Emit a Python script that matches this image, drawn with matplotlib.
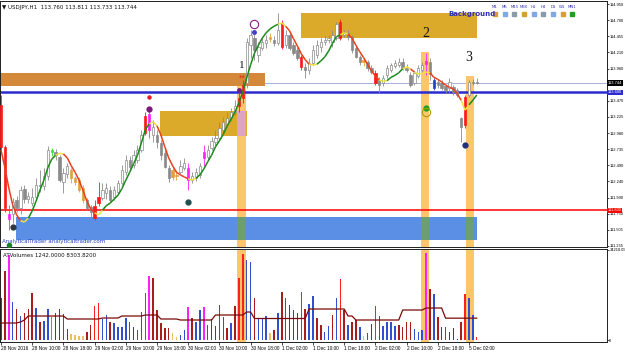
import matplotlib
matplotlib.use("Agg")
import numpy as np
import matplotlib.pyplot as plt
from matplotlib.collections import LineCollection
from matplotlib.patches import Rectangle

# ---- price data (USDJPY H1), bar 0 = 28 Nov 02:00 ----
opens = [
    113.41, 112.77, 111.67, 111.74, 111.96, 111.83, 112.13, 111.97, 111.91, 112.00,
    112.19, 112.17, 112.32, 112.69, 112.69, 112.61, 112.23, 112.35, 112.41, 112.29,
    112.26, 112.14, 111.96, 111.85, 111.87, 111.91, 111.99, 112.06, 112.11, 112.00,
    112.08, 112.22, 112.38, 112.57, 112.49, 112.57, 112.72, 112.98, 113.27, 112.95,
    112.95, 112.83, 112.67, 112.45, 112.41, 112.32, 112.38, 112.45, 112.45, 112.26,
    112.29, 112.34, 112.60, 112.61, 112.75, 112.84, 112.90, 113.03, 113.12, 113.21,
    113.30, 113.39, 113.51, 113.74, 114.32, 114.43, 114.17, 114.28, 114.35, 114.45,
    114.40, 114.35, 114.66, 114.32, 114.48, 114.32, 114.25, 114.14, 113.99, 113.94,
    114.05, 114.17, 114.29, 114.37, 114.40, 114.37, 114.43, 114.67, 114.48, 114.51,
    114.45, 114.28, 114.14, 114.06, 114.06, 113.97, 113.90, 113.79, 113.74, 113.87,
    113.94, 114.00, 114.02, 114.06, 113.97, 113.87, 113.74, 113.85, 113.94, 114.03,
    114.06, 113.79, 113.76, 113.74, 113.70, 113.67, 113.68, 113.64, 113.21, 113.10,
    113.56, 113.76, 113.76]
highs = [
    113.56, 112.80, 111.88, 111.99, 112.02, 112.17, 112.19, 112.08, 112.14, 112.29,
    112.41, 112.45, 112.78, 112.75, 112.74, 112.64, 112.45, 112.52, 112.45, 112.32,
    112.31, 112.19, 111.99, 111.88, 111.96, 112.23, 112.22, 112.22, 112.17, 112.17,
    112.26, 112.49, 112.64, 112.63, 112.72, 112.80, 113.03, 113.30, 113.33, 113.18,
    113.03, 112.87, 112.72, 112.49, 112.45, 112.41, 112.57, 112.60, 112.52, 112.38,
    112.45, 112.52, 112.80, 112.80, 112.92, 113.03, 113.15, 113.22, 113.30, 113.36,
    113.48, 113.61, 113.79, 114.43, 114.55, 114.51, 114.37, 114.45, 114.48, 114.51,
    114.46, 114.81, 114.71, 114.55, 114.52, 114.37, 114.29, 114.17, 114.05, 114.13,
    114.32, 114.40, 114.43, 114.46, 114.48, 114.55, 114.67, 114.72, 114.55, 114.55,
    114.48, 114.32, 114.17, 114.13, 114.10, 114.02, 113.94, 113.83, 113.87, 114.02,
    114.05, 114.10, 114.13, 114.13, 114.03, 113.91, 113.94, 114.02, 114.06, 114.20,
    114.13, 113.82, 113.80, 113.79, 113.73, 113.82, 113.71, 113.67, 113.22, 113.56,
    113.79, 113.80, 113.82]
lows = [
    112.72, 111.77, 111.50, 111.61, 111.77, 111.74, 111.91, 111.91, 111.87, 111.96,
    112.08, 112.11, 112.26, 112.63, 112.57, 112.23, 112.06, 112.29, 112.22, 112.19,
    112.08, 111.91, 111.80, 111.68, 111.65, 111.87, 111.96, 111.97, 111.93, 111.96,
    112.03, 112.19, 112.34, 112.41, 112.45, 112.52, 112.69, 112.95, 112.90, 112.84,
    112.75, 112.57, 112.45, 112.23, 112.26, 112.26, 112.35, 112.41, 112.11, 112.22,
    112.25, 112.29, 112.48, 112.57, 112.72, 112.78, 112.87, 112.98, 113.07, 113.16,
    113.26, 113.30, 113.44, 113.67, 114.13, 114.10, 114.06, 114.25, 114.28, 114.37,
    114.31, 114.32, 114.26, 114.28, 114.25, 114.17, 114.10, 113.94, 113.82, 113.88,
    114.02, 114.13, 114.22, 114.32, 114.35, 114.29, 114.40, 114.40, 114.45, 114.40,
    114.20, 114.13, 114.02, 114.00, 113.93, 113.88, 113.71, 113.59, 113.70, 113.82,
    113.91, 113.97, 113.99, 113.94, 113.91, 113.68, 113.71, 113.82, 113.91, 113.87,
    113.79, 113.64, 113.67, 113.64, 113.59, 113.59, 113.56, 113.53, 112.84, 113.06,
    113.53, 113.71, 113.73]
closes = [
    112.77, 111.83, 111.74, 111.93, 111.83, 112.11, 111.97, 112.02, 112.00, 112.19,
    112.17, 112.32, 112.72, 112.72, 112.64, 112.26, 112.37, 112.48, 112.29, 112.23,
    112.11, 111.96, 111.83, 111.77, 111.68, 112.00, 112.11, 112.14, 111.96, 112.11,
    112.22, 112.41, 112.57, 112.46, 112.64, 112.72, 112.95, 113.24, 113.03, 113.07,
    112.84, 112.64, 112.46, 112.29, 112.31, 112.34, 112.48, 112.52, 112.26, 112.32,
    112.38, 112.48, 112.69, 112.72, 112.86, 112.90, 113.06, 113.15, 113.21, 113.30,
    113.39, 113.51, 113.71, 114.37, 114.48, 114.25, 114.29, 114.37, 114.40, 114.42,
    114.35, 114.55, 114.29, 114.48, 114.28, 114.20, 114.13, 113.99, 113.94, 114.05,
    114.25, 114.32, 114.37, 114.40, 114.43, 114.48, 114.64, 114.43, 114.51, 114.45,
    114.25, 114.14, 114.06, 114.10, 113.97, 113.91, 113.74, 113.71, 113.82, 113.97,
    114.02, 114.05, 114.06, 113.97, 113.94, 113.71, 113.90, 113.97, 114.02, 114.08,
    113.88, 113.67, 113.71, 113.67, 113.64, 113.76, 113.61, 113.56, 113.07, 113.53,
    113.76, 113.74, 113.744]
# candle colour tags: . normal, r red, m magenta, o orange, b blue, g green
candle_tags = ("rrm......." "...g....oo" "oo..rr...." ".......rm." "....oo..m."
               "..m......." ".rr......o" "..r....r.." ".......r.." "...o..r..."
               ".........m" ".b.......r" "...")

# Hull moving average
hma = [
    112.72, 112.45, 112.14, 111.88, 111.73, 111.64, 111.62, 111.68, 111.79, 111.94,
    112.11, 112.26, 112.45, 112.58, 112.64, 112.67, 112.66, 112.60, 112.48, 112.38,
    112.26, 112.11, 111.94, 111.82, 111.76, 111.73, 111.80, 111.87, 111.91, 111.97,
    112.03, 112.13, 112.26, 112.38, 112.51, 112.64, 112.83, 113.03, 113.12, 113.15,
    113.09, 112.95, 112.77, 112.60, 112.48, 112.38, 112.34, 112.31, 112.28, 112.26,
    112.29, 112.34, 112.43, 112.54, 112.64, 112.77, 112.86, 112.96, 113.09, 113.19,
    113.30, 113.44, 113.61, 113.82, 114.02, 114.20, 114.32, 114.43, 114.51, 114.57,
    114.61, 114.64, 114.66, 114.61, 114.54, 114.42, 114.31, 114.19, 114.10, 114.03,
    114.02, 114.03, 114.08, 114.14, 114.23, 114.35, 114.45, 114.48, 114.51, 114.49,
    114.43, 114.32, 114.22, 114.13, 114.03, 113.93, 113.85, 113.79, 113.77, 113.78,
    113.83, 113.86, 113.90, 113.96, 113.99, 113.96, 113.91, 113.88, 113.89, 113.91,
    113.90, 113.83, 113.80, 113.76, 113.71, 113.68, 113.65, 113.58, 113.48, 113.33,
    113.41, 113.48, 113.56]

# ---- volumes ----
volumes = [
    15960, 26220, 32300, 14440, 11780, 9120, 10260, 11780, 17860, 12160,
    6840, 7220, 11780, 8740, 10260, 11780, 9880, 4180, 2280, 1900,
    1520, 1520, 3040, 5700, 12920, 14060, 7980, 9500, 6840, 6460,
    4940, 4940, 8360, 6840, 4940, 3800, 10640, 17860, 24320, 23560,
    11400, 6460, 4560, 4560, 2660, 1140, 1900, 3800, 12540, 8360,
    6840, 11400, 12540, 5700, 7980, 5320, 13300, 8740, 4560, 6460,
    12920, 23560, 32680, 30400, 29640, 15960, 8360, 8360, 9120, 2660,
    3800, 10260, 18240, 15960, 13300, 11400, 10260, 18240, 11780, 13680,
    16720, 8360, 5700, 3040, 5320, 9500, 15960, 23180, 11400, 5700,
    6840, 7600, 4940, 1520, 2660, 6080, 12920, 9120, 5320, 6840,
    6840, 5320, 5700, 4940, 6840, 6840, 4180, 3040, 3800, 33060,
    19380, 17480, 8740, 4940, 4940, 3040, 4560, 380, 6840, 17480,
    15960, 9500, 1242]
vol_tags = ("ddmbdbdddb" "dbbgddbdyy" "yyddrrbbdb" "bbbbdbbrmd" "ddddyybbmd"
            "bbmbddbbdb" "drrbbdbbby" "dbdbdddrdb" "bddbbdbrdb" "ddbybdrbbb"
            "bbddddbbbm" "dbddbddddr" "bbr")
vol_avg = [
    6460, 6460, 6460, 6460, 6460, 6840, 7600, 9120, 9120, 9120,
    9120, 9120, 9120, 9120, 9120, 9120, 9120, 7980, 7980, 7980,
    7980, 7980, 7980, 7980, 7980, 7980, 8360, 8360, 8360, 8360,
    8360, 9120, 9120, 9120, 9120, 9120, 9120, 9500, 9500, 9500,
    9500, 7980, 7980, 7980, 7980, 7980, 7600, 7600, 7600, 7600,
    7600, 7600, 7600, 7600, 7600, 9500, 9500, 9500, 9500, 9500,
    9500, 9500, 9500, 10640, 10640, 8170, 8170, 8170, 8170, 8170,
    8170, 8170, 8170, 8170, 8170, 8170, 8170, 8170, 8170, 11780,
    11780, 11780, 11780, 11780, 11780, 11780, 11780, 11780, 11780, 9120,
    9120, 7600, 7600, 7600, 7600, 7600, 7600, 7600, 7600, 7600,
    7600, 7600, 7600, 11400, 11400, 11400, 11400, 11400, 11400, 12160,
    12160, 12160, 12160, 12160, 8300, 8300, 8300, 8300, 8300, 8300,
    8300, 8300, 8304]
vol_max = 34210.05

# ---- zones, highlight columns, levels ----
zone_x0 = [-1, 76.9, 40.8, 3.8]
zone_x1 = [67.7, 122.1, 63.1, 122.1]
zone_lo = [113.70, 114.43, 112.93, 111.35]
zone_hi = [113.90, 114.82, 113.31, 111.70]
zone_colors = ['#d4883a', '#dcaa2a', '#dcaa2a', '#5b8fe6']
overlap_colors = ['#d4883a', '#dcaa2a', '#e0a3c4', '#6c9e70']

col_x0 = [60.5, 107.7, 119.2]
col_x1 = [62.8, 109.8, 121.3]
col_top = [113.71, 114.22, 113.85]
col_labels = ['1', '2', '3']
col_label_x = [61.8, 109.0, 120.0]
col_label_y = [113.94, 114.40, 114.03]
col_label_size = [8, 10, 10]

bid = 113.744
level_blue = 113.600
level_red = 111.800

mark_x = [38, 38, 61, 65, 65, 48, 3, 2, 109, 109, 119]
mark_y = [113.53, 113.35, 113.64, 114.64, 114.52, 111.93, 111.54, 111.27, 113.36, 113.30, 112.80]
mark_colors = ['#e02020', '#7a1a7a', '#7a1a7a', '#8a1a8a', '#4040c8', '#1f4f4f',
               '#2a3a3a', '#208020', '#20a020', '#a0a000', '#1f2f7f']
mark_sizes = [2.2, 3.5, 2.5, 6, 2.5, 3.5, 3.5, 3, 3.5, 6, 3.5]
mark_open = [False, False, False, True, False, False, False, False, False, True, False]

price_ticks = [114.950, 114.700, 114.455, 114.210, 113.960, 113.470, 113.225, 112.980,
               112.735, 112.490, 112.240, 111.990, 111.750, 111.505, 111.255]
time_pos = [0, 8, 16, 24, 32, 40, 48, 56, 64, 72, 80, 88, 96, 104, 112, 120]
time_labels = ['28 Nov 2016', '28 Nov 10:00', '28 Nov 18:00', '29 Nov 02:00', '29 Nov 10:00',
               '29 Nov 18:00', '30 Nov 02:00', '30 Nov 10:00', '30 Nov 18:00', '1 Dec 02:00',
               '1 Dec 10:00', '1 Dec 18:00', '2 Dec 02:00', '2 Dec 10:00', '2 Dec 18:00',
               '5 Dec 02:00']

tf_labels = ['M1', 'M5', 'M15', 'M30', 'H1', 'H4', 'D1', 'W1', 'MN1']
tf_colors = ['#d4a030', '#7fa8e8', '#8a9aa8', '#d4a030', '#7fa8e8', '#8a9aa8',
             '#7fa8e8', '#d4a030', '#20a020']

candle_palette = {'r': '#ff1a1a', 'm': '#ff20ff', 'o': '#e0a040', 'b': '#2040d0', 'g': '#30e030'}
vol_palette = {'d': '#a81c1c', 'r': '#ff2020', 'b': '#3050d0', 'm': '#ff20ff',
               'y': '#e8c060', 'g': '#20d020'}

SMALL = 'Liberation Sans'

W, H = 625, 352
fig = plt.figure(figsize=(W / 100, H / 100), dpi=100)
ax = fig.add_axes([0.0, 1 - 247 / H, 607 / W, 246 / H])
axv = fig.add_axes([0.0, 1 - 342 / H, 607 / W, 93 / H])

xs = np.arange(len(closes))
for a in (ax, axv):
    a.set_xlim(-0.26, 155.4)
    for s in a.spines.values():
        s.set_color('#202020')
        s.set_linewidth(0.7)
ax.set_ylim(111.239, 114.996)
axv.set_ylim(-760, 34589)

# zones
for i in range(len(zone_x0)):
    ax.add_patch(Rectangle((zone_x0[i], zone_lo[i]), zone_x1[i] - zone_x0[i],
                           zone_hi[i] - zone_lo[i], color=zone_colors[i], lw=0, zorder=1))

# highlight columns (run through the volume pane as well)
for j in range(len(col_x0)):
    w = col_x1[j] - col_x0[j]
    ax.add_patch(Rectangle((col_x0[j], 111.0), w, col_top[j] - 111.0,
                           color='#fdc66b', lw=0, zorder=1.2))
    axv.add_patch(Rectangle((col_x0[j], -1000), w, 40000, color='#fdc66b', lw=0, zorder=0.5))
    for i in range(len(zone_x0)):
        x0 = max(col_x0[j], zone_x0[i])
        x1 = min(col_x1[j], zone_x1[i])
        y1 = min(col_top[j], zone_hi[i])
        if x1 > x0 and y1 > zone_lo[i]:
            ax.add_patch(Rectangle((x0, zone_lo[i]), x1 - x0, y1 - zone_lo[i],
                                   color=overlap_colors[i], lw=0, zorder=1.4))
    ax.text(col_label_x[j], col_label_y[j], col_labels[j], fontsize=col_label_size[j],
            family='Liberation Serif', ha='center', va='bottom', color='#111111', zorder=6)

# levels
ax.axhline(bid, color='#a8b0d8', lw=0.7, zorder=0.8)
ax.axhline(level_blue, color='#2b2bd0', lw=1.8, zorder=2)
ax.axhline(level_red, color='#ff0000', lw=1.1, zorder=2)

# candles
for i in xs:
    o, h, l, c = opens[i], highs[i], lows[i], closes[i]
    tag = candle_tags[i]
    if tag == '.':
        edge = '#8a8a8a'
        face = 'white' if c >= o else '#8a8a8a'
    else:
        edge = face = candle_palette[tag]
    ax.vlines(i, l, h, color=edge, lw=0.6, zorder=3)
    ax.bar(i, max(abs(c - o), 0.008), bottom=min(o, c), width=0.6,
           color=face, edgecolor=edge, linewidth=0.5, zorder=3.2)

# coloured Hull MA
pts = np.column_stack([xs, hma])
segs = np.stack([pts[:-1], pts[1:]], axis=1)
up = np.diff(hma) > 0
seg_cols = []
for k in range(len(up)):
    turn = (k > 0 and up[k] != up[k - 1]) or (k < len(up) - 1 and up[k] != up[k + 1])
    if turn:
        seg_cols.append('#f0e040')
    else:
        seg_cols.append('#1a8a1a' if up[k] else '#e8401c')
ax.add_collection(LineCollection(segs, colors=seg_cols, linewidths=1.1, zorder=4))

# signal markers
for i in range(len(mark_x)):
    if mark_open[i]:
        ax.plot(mark_x[i], mark_y[i], 'o', ms=mark_sizes[i], mfc='none',
                mec=mark_colors[i], mew=0.8, zorder=5)
    else:
        ax.plot(mark_x[i], mark_y[i], 'o', ms=mark_sizes[i], color=mark_colors[i], zorder=5)
ax.text(61.8, 113.82, '**', color='#e02020', fontsize=5, ha='center', va='center', zorder=5)

# price axis on the right
ax.yaxis.tick_right()
ax.set_yticks(price_ticks)
ax.set_yticklabels([f'{v:.3f}' for v in price_ticks], family=SMALL)
ax.tick_params(axis='y', labelsize=2.9, length=1.2, width=0.5, pad=0.5)
ax.tick_params(axis='x', bottom=False, labelbottom=False)
for val, fc in [(bid, '#000000'), (level_blue, '#2b2bd0'), (level_red, '#ff0000')]:
    ax.annotate(f'{val:.3f}', xy=(1.0, val), xycoords=('axes fraction', 'data'),
                xytext=(0.6, 0), textcoords='offset points', ha='left', va='center',
                fontsize=2.9, family=SMALL, color='white', annotation_clip=False, zorder=7,
                bbox=dict(boxstyle='square,pad=0.15', fc=fc, ec='none'))

ax.text(0.004, 0.985, '\u25bc USDJPY,H1  113.760 113.811 113.733 113.744',
        transform=ax.transAxes, fontsize=4, va='top', ha='left', color='#111111')
ax.text(0.004, 0.012, 'AnalyticalTrader analyticaltrader.com', transform=ax.transAxes,
        fontsize=4, va='bottom', ha='left', color='#2040c0', zorder=6)

# timeframe legend
fig.text(448 / W, 1 - 14 / H, 'Background', fontsize=5, weight='bold', color='#3030b0',
         ha='left', va='center')
for k, (lab, col) in enumerate(zip(tf_labels, tf_colors)):
    cx = 495 + 9.65 * k
    fig.text(cx / W, 1 - 7 / H, lab, fontsize=2.8, color='#3030b0', ha='center', va='center')
    fig.patches.append(Rectangle(((cx - 2) / W, 1 - 16 / H), 4 / W, 4 / H, color=col,
                                 transform=fig.transFigure, figure=fig))

# volume pane
axv.bar(xs, volumes, width=0.38, color=[vol_palette[t] for t in vol_tags], zorder=2)
axv.plot(xs, vol_avg, color='#7a0a0a', lw=0.9, zorder=3)
axv.yaxis.tick_right()
axv.set_yticks([0, vol_max])
axv.set_yticklabels(['0', f'{vol_max:.2f}'], family=SMALL)
axv.tick_params(axis='y', labelsize=2.9, length=1.2, width=0.5, pad=0.5)
axv.set_xticks(time_pos)
axv.set_xticklabels(time_labels, family=SMALL)
axv.tick_params(axis='x', labelsize=3.4, length=2, width=0.5, pad=0.8)
for t in axv.get_xticklabels():
    t.set_horizontalalignment('left')
axv.text(0.005, 0.96, 'ATVolumes 1242.0000 8303.8200', transform=axv.transAxes,
         fontsize=4, va='top', ha='left', color='#111111')

fig.savefig('out.png', dpi=100, facecolor='white')
